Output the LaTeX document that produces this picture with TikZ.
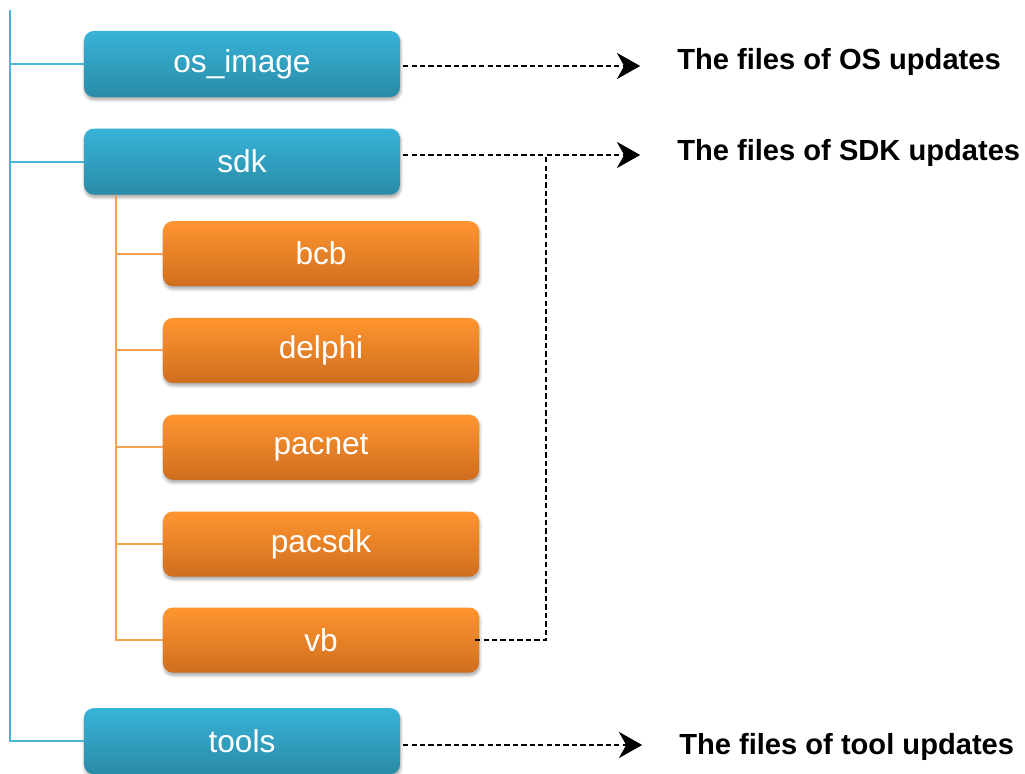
\documentclass[tikz,border=0pt]{standalone}
\usepackage{fontspec}
\setmainfont{Liberation Sans}
\usetikzlibrary{positioning,arrows.meta,calc,shadows.blur}
\definecolor{dtop}{HTML}{38B3D8}
\definecolor{dbot}{HTML}{2A8BA7}
\definecolor{dline}{HTML}{4AB4D4}
\definecolor{otop}{HTML}{FF952F}
\definecolor{obot}{HTML}{CF6E1F}
\definecolor{oline}{HTML}{F6A04F}
\tikzset{
  base/.style={rectangle,rounded corners=7pt,minimum width=7.9cm,minimum height=1.65cm,
    text=white,font=\fontsize{22.5}{26}\selectfont,inner sep=0pt,
    blur shadow={shadow xshift=0.5pt,shadow yshift=-2pt,shadow blur steps=6,shadow opacity=35}},
  dir/.style={base,top color=dtop,bottom color=dbot},
  sub/.style={base,top color=otop,bottom color=obot,minimum height=1.625cm},
  lab/.style={font=\bfseries\fontsize{20.7}{24}\selectfont,anchor=west,inner sep=0pt},
  trunk/.style={draw=dline,line width=1.4pt},
  branch/.style={draw=oline,line width=1.4pt},
  dl/.style={draw=black,line width=1.8pt,dash pattern=on 3.8pt off 2.2pt},
  ar/.style={dl,-{Stealth[length=0.58cm,width=0.65cm,inset=0.18cm]},shorten >=0.92cm},
}
\begin{document}
\begin{tikzpicture}[x=0.025cm,y=-0.025cm]
\useasboundingbox (0,0) rectangle (1025,774);
% ---- top-level folders ----
\node[dir] (osimg) at (242,64) {os\_image};
\node[dir,below=0.775cm of osimg] (sdk) {sdk};
% ---- sdk sub-folders ----
\node[sub,below=0.65cm of sdk,xshift=1.975cm] (bcb) {bcb};
\node[sub,below=0.78cm of bcb] (delphi) {delphi};
\node[sub,below=0.78cm of delphi] (pacnet) {pacnet};
\node[sub,below=0.78cm of pacnet] (pacsdk) {pacsdk};
\node[sub,below=0.76cm of pacsdk] (vb) {vb};
\node[dir,below=0.875cm of vb,xshift=-1.975cm] (tools) {tools};
% ---- tree lines ----
\coordinate (root) at (10,10);
\coordinate (subroot) at ([xshift=0.8cm]sdk.south west);
\draw[trunk] (root) |- (tools.west);
\draw[trunk] (root |- osimg) -- (osimg.west);
\draw[trunk] (root |- sdk) -- (sdk.west);
\draw[branch] (subroot) |- (vb.west);
\foreach \s in {bcb,delphi,pacnet,pacsdk}
  \draw[branch] (subroot |- \s) -- (\s.west);
% ---- descriptions ----
\node[lab] (oslab) at (677,62) {The files of OS updates};
\node[lab] (sdklab) at (677,153) {The files of SDK updates};
\node[lab] (toolslab) at (679,747) {The files of tool updates};
\draw[ar] ([xshift=2pt]osimg.east |- 0,66) -- (oslab.west |- 0,66);
\draw[ar] ([xshift=2pt]sdk.east |- 0,155) -- (sdklab.west |- 0,155);
\draw[ar] ([xshift=2pt]tools.east |- 0,745) -- (toolslab.west |- 0,745);
\coordinate (sdkjoin) at (546,155);
\draw[dl] ([xshift=-3pt]vb.east) -| (sdkjoin);
\end{tikzpicture}
\end{document}
